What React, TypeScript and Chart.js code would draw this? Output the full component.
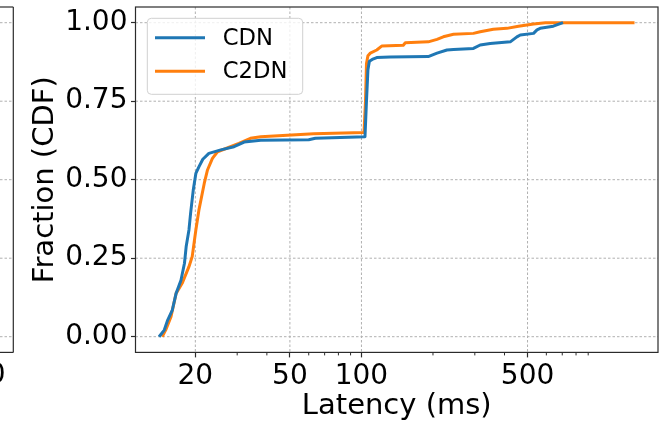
import React, { useEffect, useRef } from 'react';
import { Chart, registerables } from 'chart.js';
Chart.register(...registerables);

// ---- data ----
const cdnLatency = [14.07, 14.8, 15.3, 16.0, 16.6, 17.4, 18.0, 18.3, 18.8, 19.1, 19.6, 20.1, 20.7, 21.5, 22.8, 25.6, 29.1, 32.1, 37.7, 60, 64, 103.5, 105, 106.5, 108, 111, 116, 132, 191, 208, 229, 244, 296, 316, 348, 423, 451, 466, 530, 548, 565, 642, 705];
const cdnFraction = [0, 0.021, 0.053, 0.085, 0.138, 0.18, 0.234, 0.287, 0.34, 0.393, 0.467, 0.52, 0.541, 0.565, 0.584, 0.595, 0.605, 0.62, 0.626, 0.627, 0.632, 0.637, 0.75, 0.85, 0.877, 0.883, 0.889, 0.891, 0.892, 0.903, 0.913, 0.915, 0.918, 0.929, 0.934, 0.939, 0.955, 0.961, 0.966, 0.977, 0.982, 0.989, 1.0];
const c2dnLatency = [14.5, 15.0, 15.8, 16.6, 17.6, 18.8, 19.4, 20.1, 20.7, 21.8, 22.5, 23.6, 24.8, 28.1, 30.5, 34.1, 37.7, 63, 102.5, 104, 105, 106.5, 109, 116, 122, 150, 153, 191, 208, 221, 244, 296, 316, 359, 409, 458, 530, 595, 1410];
const c2dnFraction = [0, 0.021, 0.064, 0.138, 0.17, 0.223, 0.255, 0.34, 0.403, 0.488, 0.531, 0.568, 0.589, 0.605, 0.616, 0.632, 0.637, 0.646, 0.65, 0.75, 0.87, 0.895, 0.903, 0.913, 0.926, 0.928, 0.936, 0.939, 0.947, 0.955, 0.963, 0.966, 0.971, 0.979, 0.982, 0.989, 0.996, 1.0, 1.0];

const seriesNames = ['CDN', 'C2DN'];
const seriesColors = ['#1f77b4', '#ff7f0e'];
const xMajorTicks = [20, 50, 100, 500];
const xMinorTicks = [30, 40, 60, 70, 80, 90, 200, 300, 400, 600, 700, 800, 900];
const yTicks = [0, 0.25, 0.5, 0.75, 1.0];
const xTitle = 'Latency (ms)';
const yTitle = 'Fraction (CDF)';
const neighbourTickLabel = '1000';

const FONT = '"DejaVu Sans", "Liberation Sans", sans-serif';
const TICK_SIZE = 28;
const TITLE_SIZE = 29;
const LEGEND_SIZE = 22.7;

function seg(ctx: CanvasRenderingContext2D, x1: number, y1: number, x2: number, y2: number) {
  ctx.beginPath();
  ctx.moveTo(x1, y1);
  ctx.lineTo(x2, y2);
  ctx.stroke();
}

const decor = {
  id: 'decor',
  beforeDatasetsDraw(chart: any) {
    const { ctx, chartArea: a, scales } = chart;
    const xs = scales.x, ys = scales.y;
    ctx.save();
    ctx.strokeStyle = '#b0b0b0';
    ctx.lineWidth = 1;
    ctx.setLineDash([2.5, 2]);
    xMajorTicks.forEach((v) => {
      const px = xs.getPixelForValue(v);
      seg(ctx, px, a.top, px, a.bottom);
    });
    yTicks.forEach((v) => {
      const py = ys.getPixelForValue(v);
      seg(ctx, a.left, py, a.right, py);
      // neighbouring subplot (cut off at the left edge)
      seg(ctx, 0, py, 13.3, py);
    });
    ctx.restore();
  },
  afterDatasetsDraw(chart: any) {
    const { ctx, chartArea: a, scales } = chart;
    const xs = scales.x;
    ctx.save();
    // spines
    ctx.strokeStyle = '#2b2b2b';
    ctx.lineWidth = 1.2;
    ctx.strokeRect(a.left, a.top, a.right - a.left, a.bottom - a.top);
    // neighbour subplot spines
    seg(ctx, 13.3, a.top, 13.3, a.bottom);
    seg(ctx, 0, a.top, 13.3, a.top);
    seg(ctx, 0, a.bottom, 13.3, a.bottom);
    // minor ticks
    ctx.lineWidth = 1;
    xMinorTicks.forEach((v) => {
      const px = xs.getPixelForValue(v);
      if (px > a.left && px < a.right) seg(ctx, px, a.bottom, px, a.bottom + 3);
    });
    // neighbour tick label
    ctx.fillStyle = '#000';
    ctx.font = `${TICK_SIZE}px ${FONT}`;
    ctx.textAlign = 'right';
    ctx.textBaseline = 'alphabetic';
    ctx.fillText(neighbourTickLabel, 5.5, 383);

    // legend
    const bx = 147.3, by = 18.3, bw = 155.4, bh = 76, r = 4;
    ctx.beginPath();
    ctx.moveTo(bx + r, by);
    ctx.arcTo(bx + bw, by, bx + bw, by + bh, r);
    ctx.arcTo(bx + bw, by + bh, bx, by + bh, r);
    ctx.arcTo(bx, by + bh, bx, by, r);
    ctx.arcTo(bx, by, bx + bw, by, r);
    ctx.closePath();
    ctx.fillStyle = 'rgba(255,255,255,0.8)';
    ctx.fill();
    ctx.strokeStyle = '#d0d0d0';
    ctx.lineWidth = 1;
    ctx.stroke();
    const rows = [37.7, 71.3];
    ctx.font = `${LEGEND_SIZE}px ${FONT}`;
    ctx.textAlign = 'left';
    ctx.textBaseline = 'middle';
    seriesNames.forEach((name, i) => {
      ctx.strokeStyle = seriesColors[i];
      ctx.lineWidth = 3;
      seg(ctx, 155, rows[i], 205, rows[i]);
      ctx.fillStyle = '#000';
      ctx.fillText(name, 222.7, rows[i] + 1);
    });
    ctx.restore();
  },
};

export default function App() {
  const ref = useRef<HTMLCanvasElement | null>(null);
  useEffect(() => {
    if (!ref.current) return;
    const mk = (xsArr: number[], ysArr: number[]) => xsArr.map((x, i) => ({ x, y: ysArr[i] }));
    const chart = new Chart(ref.current, {
      type: 'line',
      data: {
        datasets: [
          {
            label: seriesNames[0],
            data: mk(cdnLatency, cdnFraction),
            borderColor: seriesColors[0],
            backgroundColor: seriesColors[0],
            borderWidth: 3,
            pointRadius: 0,
            tension: 0,
            borderJoinStyle: 'round',
          },
          {
            label: seriesNames[1],
            data: mk(c2dnLatency, c2dnFraction),
            borderColor: seriesColors[1],
            backgroundColor: seriesColors[1],
            borderWidth: 3,
            pointRadius: 0,
            tension: 0,
            borderJoinStyle: 'round',
          },
        ],
      },
      options: {
        animation: false,
        responsive: false,
        devicePixelRatio: 1,
        layout: { padding: { left: 0, right: 13, top: 7, bottom: 0 } },
        plugins: { legend: { display: false }, tooltip: { enabled: false } },
        scales: {
          x: {
            type: 'logarithmic',
            min: 11.2,
            max: 1770,
            afterBuildTicks: (s: any) => {
              s.ticks = xMajorTicks.map((v) => ({ value: v, major: false }));
            },
            afterFit: (s: any) => {
              s.height = 68.6;
              s.paddingLeft = 0;
              s.paddingRight = 0;
            },
            ticks: {
              autoSkip: false,
              maxRotation: 0,
              padding: 3,
              color: '#000',
              font: { family: FONT, size: TICK_SIZE },
              callback: (v: any) => String(v),
            },
            grid: { drawOnChartArea: false, drawTicks: true, tickLength: 5, tickColor: '#2b2b2b', tickWidth: 1.2 },
            border: { display: false },
            title: {
              display: true,
              text: xTitle,
              color: '#000',
              font: { family: FONT, size: TITLE_SIZE, lineHeight: 1 },
              padding: { top: 0, bottom: 0 },
            },
          },
          y: {
            type: 'linear',
            min: -0.05,
            max: 1.05,
            afterBuildTicks: (s: any) => {
              s.ticks = yTicks.map((v) => ({ value: v }));
            },
            afterFit: (s: any) => {
              s.width = 135.5;
              s.paddingTop = 0;
              s.paddingBottom = 0;
            },
            ticks: {
              padding: 3.5,
              color: '#000',
              font: { family: FONT, size: TICK_SIZE },
              callback: (v: any) => Number(v).toFixed(2),
            },
            grid: { drawOnChartArea: false, drawTicks: true, tickLength: 4.5, tickColor: '#2b2b2b', tickWidth: 1.2 },
            border: { display: false },
            title: {
              display: true,
              text: yTitle,
              color: '#000',
              font: { family: FONT, size: TITLE_SIZE, lineHeight: 1 },
              padding: { top: 31, bottom: 0 },
            },
          },
        },
      },
      plugins: [decor],
    } as any);
    return () => chart.destroy();
  }, []);
  return (
    <div style={{ position: 'fixed', left: 0, top: 0, width: 671, height: 421, background: '#fff' }}>
      <canvas ref={ref} width={671} height={421} style={{ display: 'block' }} />
    </div>
  );
}
